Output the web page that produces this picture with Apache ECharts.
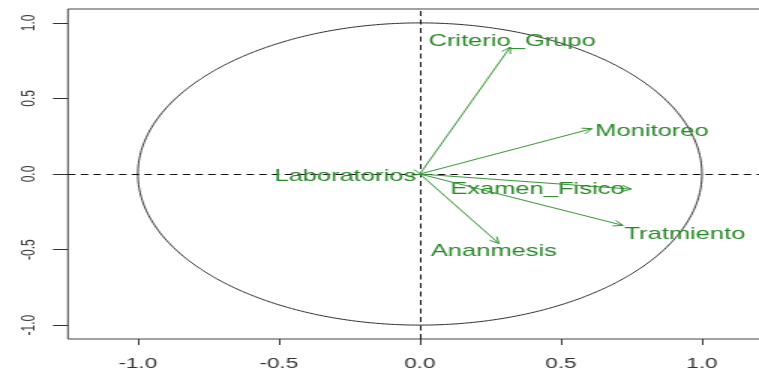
<!DOCTYPE html>
<html>
<head>
<meta charset="utf-8">
<script src="https://cdn.jsdelivr.net/npm/echarts@6/dist/echarts.min.js"></script>
<style>
  html, body { margin: 0; padding: 0; background: #fff; overflow: hidden; width: 759px; height: 373px; }
  /* the plot is drawn on a narrower canvas and widened, which gives the wide lettering */
  #chart { width: 520px; height: 373px; transform: scaleX(1.5); transform-origin: 0 0; }
</style>
</head>
<body>
<div id="chart"></div>
<script>
// Variables of the correlation circle and their coordinates on the two first dimensions
const varNames = ['Criterio_Grupo', 'Monitoreo', 'Examen_Fisico', 'Tratmiento', 'Ananmesis', 'Laboratorios'];
const dim1 = [0.32, 0.61, 0.75, 0.72, 0.28, 0.005];
const dim2 = [0.84, 0.30, -0.10, -0.34, -0.46, -0.002];
const tickValues = [-1, -0.5, 0, 0.5, 1];

// label placement relative to each arrow tip (px)
const labelOffsets = [[1.3, -6], [40, 3], [-62.7, 0], [41.3, 9], [-3.3, 8], [-50.7, 2]];

const GREEN_LINE = '#379637';
const GREEN_TEXT = '#2a882a';

// unit circle outline
const circlePts = [];
for (let k = 0; k <= 360; k++) {
  const t = k * Math.PI / 180;
  circlePts.push([Math.cos(t), Math.sin(t)]);
}

const arrowData = varNames.map((n, i) => [dim1[i], dim2[i], n]);

function renderArrow(params, api) {
  const i = params.dataIndex;
  const o = api.coord([0, 0]);
  const t = api.coord([api.value(0), api.value(1)]);
  const ang = Math.atan2(t[1] - o[1], t[0] - o[0]);
  const h = 7, a = Math.PI / 7;
  const p1 = [t[0] - h * Math.cos(ang - a), t[1] - h * Math.sin(ang - a)];
  const p2 = [t[0] - h * Math.cos(ang + a), t[1] - h * Math.sin(ang + a)];
  const off = labelOffsets[i];
  return {
    type: 'group',
    children: [
      { type: 'line', shape: { x1: o[0], y1: o[1], x2: t[0], y2: t[1] },
        style: { stroke: GREEN_LINE, lineWidth: 1 } },
      { type: 'polyline', shape: { points: [p1, t, p2] },
        style: { stroke: GREEN_LINE, lineWidth: 1, fill: null } },
      { type: 'text', x: t[0] + off[0], y: t[1] + off[1],
        style: { text: varNames[i], fill: GREEN_TEXT, fontSize: 17,
                 fontFamily: '"Liberation Sans", Arial, sans-serif',
                 align: 'center', verticalAlign: 'middle' } }
    ]
  };
}

const chart = echarts.init(document.getElementById('chart'), null, { renderer: 'canvas' });
chart.setOption({
  animation: false,
  backgroundColor: '#fff',
  grid: { show: true, left: 45.3, top: 9, width: 469.3, height: 330,
          borderColor: '#444', borderWidth: 1, backgroundColor: 'transparent' },
  xAxis: {
    type: 'value', min: -1.248, max: 1.248, position: 'bottom',
    axisLine: { show: false, onZero: false },
    splitLine: { show: false },
    axisTick: { show: true, customValues: tickValues, length: 6, lineStyle: { color: '#333' } },
    axisLabel: { customValues: tickValues, formatter: v => v.toFixed(1), margin: 17,
                 fontSize: 15, color: '#333', fontFamily: '"Liberation Sans", Arial, sans-serif' }
  },
  yAxis: {
    type: 'value', min: -1.092, max: 1.092, position: 'left',
    axisLine: { show: false, onZero: false },
    splitLine: { show: false },
    axisTick: { show: true, customValues: tickValues, length: 10, lineStyle: { color: '#333' } },
    axisLabel: { customValues: tickValues, formatter: v => v.toFixed(1), rotate: 90, margin: 20,
                 fontSize: 12, color: '#333', fontFamily: '"Liberation Sans", Arial, sans-serif' }
  },
  series: [
    {
      type: 'line', data: circlePts, showSymbol: false, silent: true,
      lineStyle: { color: '#333', width: 1 },
      markLine: {
        silent: true, symbol: 'none', label: { show: false },
        lineStyle: { color: '#111', width: 1, type: [5, 3.5] },
        data: [{ xAxis: 0 }, { yAxis: 0 }]
      },
      z: 2
    },
    {
      type: 'custom', data: arrowData, renderItem: renderArrow, silent: true, z: 5
    }
  ]
});
</script>
</body>
</html>
